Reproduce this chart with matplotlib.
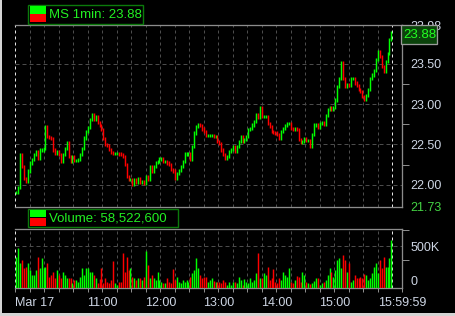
import matplotlib
matplotlib.use('Agg')
import matplotlib.pyplot as plt
import numpy as np
from matplotlib.patches import Rectangle

plt.rcParams['font.family'] = ['Liberation Sans', 'DejaVu Sans']

# 2-minute closes, MS, Mar 17 (9:30 - 16:00)
closes = [
    21.90, 21.97, 22.37, 22.23, 22.08, 22.04, 22.17, 22.27, 22.31, 22.37,
    22.41, 22.33, 22.43, 22.43, 22.45, 22.72, 22.60, 22.59, 22.57, 22.43,
    22.39, 22.41, 22.37, 22.29, 22.37, 22.45, 22.52, 22.35, 22.29, 22.35,
    22.30, 22.30, 22.31, 22.37, 22.45, 22.58, 22.66, 22.71, 22.81, 22.87,
    22.81, 22.85, 22.77, 22.73, 22.68, 22.57, 22.50, 22.49, 22.44, 22.40,
    22.39,
    22.39, 22.39, 22.38, 22.37, 22.35, 22.25, 22.10, 22.06, 22.06, 22.00,
    22.06, 22.03, 22.07, 22.03, 22.04, 22.02, 22.10, 22.06, 22.23, 22.17,
    22.23, 22.28, 22.29, 22.32, 22.32, 22.29, 22.29, 22.27, 22.25, 22.19,
    22.17, 22.08, 22.14, 22.18, 22.23, 22.29, 22.38, 22.38, 22.39, 22.32,
    22.47, 22.64, 22.72, 22.75, 22.73, 22.69, 22.66, 22.61, 22.61,
    22.61, 22.61, 22.60, 22.60, 22.54, 22.51, 22.43, 22.37, 22.33, 22.35,
    22.41, 22.44, 22.47, 22.41, 22.47, 22.54, 22.60, 22.54, 22.56, 22.60,
    22.68, 22.70, 22.74, 22.78, 22.87, 22.83, 22.95, 22.85, 22.85, 22.85,
    22.76, 22.72, 22.66, 22.65, 22.64, 22.62, 22.58, 22.66, 22.70, 22.73,
    22.76, 22.76, 22.70, 22.69, 22.70, 22.68, 22.56, 22.52, 22.54,
    22.57, 22.55, 22.55, 22.48, 22.62, 22.74, 22.75, 22.71, 22.76, 22.77,
    22.75, 22.86, 22.93, 22.95, 22.93, 22.96, 23.05, 23.22, 23.32, 23.51,
    23.32, 23.22, 23.24, 23.23, 23.32, 23.32, 23.26, 23.23, 23.18, 23.16,
    23.09, 23.06, 23.11, 23.18, 23.32, 23.36, 23.42, 23.55, 23.65, 23.59,
    23.47, 23.40, 23.53, 23.63, 23.80, 23.88,
]

# volume per 2 minutes, thousands of shares
volumes_k = [
    377, 476, 298, 337, 246, 258, 298, 218, 159, 159,
    218, 377, 238, 357, 238, 258, 298, 139, 159, 199,
    119, 218, 159, 119, 199, 159, 119, 119, 119, 60,
    99, 99, 79, 139, 246, 159, 246, 238, 199, 199,
    159, 119, 60, 111, 238, 60, 127, 79, 60, 99,
    318, 60, 40, 79, 79, 417, 199, 377, 218, 238,
    139, 119, 99, 119, 119, 99, 139, 437, 278, 119,
    159, 119, 99, 199, 99, 79, 60, 60, 127, 79,
    60, 230, 99, 139, 79, 60, 99, 79, 99, 79,
    139, 179, 218, 365, 238, 159, 119, 139, 139, 79,
    99,
    119, 87, 71, 79, 71, 60, 99, 79, 40, 71,
    40, 79, 79, 60, 139, 99, 40, 111, 79, 60,
    119, 79, 99, 179, 417, 127, 119, 179, 159, 258,
    99, 119, 230, 79, 60, 127, 99, 199, 159, 139,
    246, 79, 60, 99, 151, 139, 79, 199, 159, 79,
    60, 48, 60, 87, 119, 127, 40, 60, 79, 99,
    159, 238, 199, 139, 218, 337, 365, 238, 397, 337,
    199, 298, 71, 99, 159, 119, 119, 139, 127, 167,
    159, 99, 127, 179, 258, 298, 179, 337, 238, 377,
    258, 258, 365, 575,
]

time_labels = ['Mar 17', '11:00', '12:00', '13:00', '14:00', '15:00', '15:59:59']
time_ticks = [0, 90, 150, 210, 270, 330, 400]      # minutes after 9:30
price_ticks = [21.73, 22.00, 22.50, 23.00, 23.50, 23.98]
price_labels = ['21.73', '22.00', '22.50', '23.00', '23.50', '23.98']
last_price = '23.88'
total_volume = '58,522,600'

W, H = 456, 316
GREEN, RED = '#00ff00', '#ff0000'
GRID = '#4c4c4c'
SPINE = '#8c8c8c'
LABEL = '#cdd5e3'
PX = 0.72  # 1 pixel in points

fig = plt.figure(figsize=(W / 100, H / 100), dpi=100, facecolor='black')


def box(x0, y0, x1, y1):
    # pixel box (top-left origin) -> figure fraction
    return [x0 / W, 1 - y1 / H, (x1 - x0) / W, (y1 - y0) / H]


ax = fig.add_axes(box(15, 25, 402, 206.5), facecolor='black')
axv = fig.add_axes(box(15, 229.3, 402, 288.3), facecolor='black')

c = np.array(closes)
o = np.r_[c[0], c[:-1]]
t = np.arange(len(c)) * 2 + 1
up = c >= o
cols = np.where(up, GREEN, RED)

for a in (ax, axv):
    a.set_xlim(-0.5, 400)
    for m in range(15, 390, 15):
        a.axvline(m, color=GRID, lw=PX, ls=(0, (3, 3)), zorder=1)
    for m in (0, 390):
        a.axvline(m, color='#e6e6e6', lw=PX, ls=(0, (3, 3)), zorder=1)
    a.spines['left'].set_visible(False)
    for s in ('top', 'bottom', 'right'):
        a.spines[s].set_color(SPINE)
        a.spines[s].set_linewidth(PX * 1.3)
    a.yaxis.tick_right()

# price bars
pad = 0.02
ax.vlines(t, np.minimum(o, c) - pad, np.maximum(o, c) + pad, colors=cols, lw=1.05, zorder=3)
ax.set_ylim(21.73, 23.98)
for p in price_ticks[1:-1]:
    ax.axhline(p, color=GRID, lw=PX, ls=(0, (4, 3)), zorder=1)
ax.set_yticks(price_ticks)
ax.set_yticklabels(price_labels)
ax.set_yticks([22.25, 22.75, 23.25, 23.75], minor=True)
ax.tick_params(axis='y', which='major', length=0, pad=6, labelsize=9, labelcolor=LABEL)
ax.tick_params(axis='y', which='minor', length=5, width=PX, color=SPINE)
ax.get_yticklabels()[0].set_color('#44d444')
ax.set_xticks([])

# volume bars
axv.vlines(t, 0, volumes_k, colors=cols, lw=1.05, zorder=3)
axv.set_ylim(0, 700)
axv.axhline(500, color=GRID, lw=PX, ls=(0, (4, 3)), zorder=1)
axv.set_yticks([0, 500])
axv.set_yticklabels(['0', '500K'])
axv.set_yticks([330, 690], minor=True)
axv.tick_params(axis='y', which='major', length=0, pad=6, labelsize=9, labelcolor=LABEL)
axv.tick_params(axis='y', which='minor', length=5, width=PX, color=SPINE)
axv.get_yticklabels()[0].set_verticalalignment('bottom')
axv.set_xticks(time_ticks)
axv.set_xticklabels(time_labels)
axv.set_xticks(range(15, 390, 15), minor=True)
axv.tick_params(axis='x', which='both', length=3, width=PX, color=SPINE, pad=3,
                labelsize=9, labelcolor=LABEL)
axv.get_xticklabels()[0].set_horizontalalignment('left')


def rect(x0, y0, x1, y1, **kw):
    r = Rectangle((x0 / W, 1 - y1 / H), (x1 - x0) / W, (y1 - y0) / H,
                  transform=fig.transFigure, **kw)
    fig.patches.append(r)


def legend(y0, y1, text, x1):
    rect(28.5, y0, x1, y1, facecolor='black', edgecolor='#0b7a0b', lw=PX * 1.4, zorder=5)
    mid = (y0 + y1) / 2
    rect(30.5, y0 + 1.5, 46, mid - 0.5, facecolor=GREEN, lw=0, zorder=6)
    rect(30.5, mid + 0.5, 46, y1 - 1.5, facecolor=RED, lw=0, zorder=6)
    fig.text(49 / W, 1 - (mid + 0.5) / H, text, color='#22f022', fontsize=9.5,
             va='center', ha='left', zorder=7)


legend(4.5, 23.5, 'MS 1min: ' + last_price, 143.5)
legend(208.5, 227, 'Volume: ' + total_volume, 178)

# last price marker (covers the axis-top label, as in the terminal)
rect(401.5, 24.5, 437.5, 43.5, facecolor='#0b420b', edgecolor='#9a9a9a', lw=PX * 1.3, zorder=5)
fig.text(419.5 / W, 1 - 34.5 / H, last_price, color='#22ff22', fontsize=9.5,
         va='center', ha='center', zorder=7)

# window frame edges
rect(0, 0, 2, H, facecolor='#d4d4d4', lw=0, zorder=8)
rect(0, H - 3, W, H, facecolor='#d4d4d4', lw=0, zorder=8)

fig.savefig('out.png', dpi=100, facecolor='black')
